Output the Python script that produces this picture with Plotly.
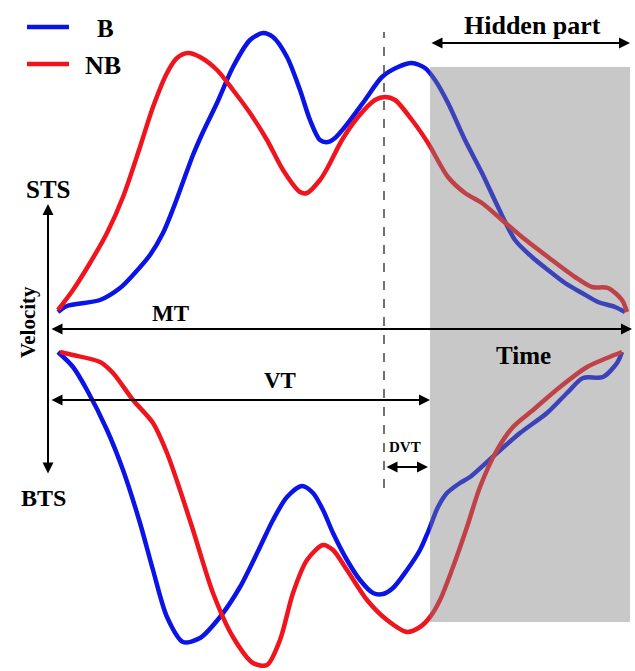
import plotly.graph_objects as go

# ---- data (time in arbitrary units, velocity in arbitrary units) ----
b_sts_t = [0, 9, 42, 62, 75, 92, 105, 115, 125, 135, 145, 159, 175, 192, 205, 215, 229, 242, 252, 262, 270, 277,
           290, 307, 324, 340, 354, 367, 377, 390, 407, 424, 440, 457, 474, 490, 507, 524, 540, 557, 567]
b_sts_v = [0, 6, 12, 24, 37, 57, 79, 103, 130, 157, 180, 209, 245, 272, 279, 275, 255, 222, 192, 172, 170, 174,
           189, 212, 235, 245, 249, 244, 232, 209, 172, 139, 105, 72, 55, 42, 29, 19, 10, 5, 0]

nb_sts_t = [0, 15, 32, 49, 65, 82, 95, 109, 119, 130, 142, 159, 175, 192, 209, 225, 242, 249, 262, 270,
            284, 300, 317, 327, 337, 354, 370, 390, 407, 424, 444, 464, 490, 517, 534, 550, 564, 569]
nb_sts_v = [2, 22, 49, 79, 115, 165, 205, 239, 254, 259, 255, 242, 222, 199, 172, 142, 120, 119, 132, 145,
            172, 195, 212, 215, 212, 192, 169, 135, 119, 109, 92, 75, 55, 35, 25, 24, 12, 0]

b_bts_t = [0, 15, 29, 49, 65, 82, 95, 109, 125, 142, 162, 182, 202, 215, 229, 244, 255, 265, 275, 289,
           302, 315, 325, 335, 349, 362, 370, 380, 389, 402, 412, 439, 462, 489, 509, 525, 545, 559, 564]
b_bts_v = [0, -15, -38, -78, -118, -171, -218, -265, -290, -286, -265, -235, -195, -168, -145, -134, -141, -158, -181, -208,
           -228, -241, -242, -236, -218, -198, -180, -155, -141, -131, -125, -101, -81, -61, -41, -26, -25, -11, 0]

nb_bts_t = [2, 15, 42, 55, 75, 95, 109, 122, 135, 155, 175, 195, 209, 222, 235, 249, 265, 275, 289, 309,
            329, 349, 362, 372, 382, 395, 409, 422, 439, 455, 475, 502, 529, 549, 564]
nb_bts_v = [0, -3, -10, -21, -48, -71, -101, -138, -178, -241, -285, -311, -313, -288, -241, -208, -193, -198, -218, -248,
            -268, -280, -275, -265, -248, -215, -175, -135, -98, -75, -58, -35, -15, -6, 0]

MT_END = 572      # end of movement
VT_END = 372      # visible time end (start of hidden part)
DVT_START = 326   # dashed marker

BLUE = "#0a14e6"
RED = "#f0141e"
FONT = "Liberation Serif"
LINE = dict(width=4.5, shape="spline", smoothing=0.8)

fig = go.Figure()
fig.add_trace(go.Scatter(x=b_sts_t, y=b_sts_v, mode="lines", name="B", line=dict(color=BLUE, **LINE)))
fig.add_trace(go.Scatter(x=nb_sts_t, y=nb_sts_v, mode="lines", name="NB", line=dict(color=RED, **LINE)))
fig.add_trace(go.Scatter(x=b_bts_t, y=b_bts_v, mode="lines", name="B", yaxis="y2", line=dict(color=BLUE, **LINE)))
fig.add_trace(go.Scatter(x=nb_bts_t, y=nb_bts_v, mode="lines", name="NB", yaxis="y2", line=dict(color=RED, **LINE)))

shapes = [
    dict(type="rect", xref="x", yref="y", x0=VT_END, x1=MT_END, y0=-310, y1=245,
         fillcolor="rgba(128,128,128,0.43)", line=dict(width=0), layer="above"),
    dict(type="line", xref="x", yref="y", x0=DVT_START, x1=DVT_START, y0=-176, y1=280,
         line=dict(color="#444444", width=1.5, dash="dash")),
    dict(type="line", xref="x", yref="y", x0=-31, x1=11, y0=285, y1=285, line=dict(color=BLUE, width=4.5)),
    dict(type="line", xref="x", yref="y", x0=-31, x1=11, y0=248, y1=248, line=dict(color=RED, width=4.5)),
]

def arrow(x0, y0, x1, y1):
    return dict(x=x1, y=y1, ax=x0, ay=y0, xref="x", yref="y", axref="x", ayref="y", text="",
                showarrow=True, arrowhead=2, arrowside="end+start", arrowsize=1.1, arrowwidth=2,
                arrowcolor="black")

def label(x, y, text, size, angle=0):
    return dict(x=x, y=y, xref="x", yref="y", text="<b>" + text + "</b>", showarrow=False,
                textangle=angle, font=dict(family=FONT, size=size, color="black"))

annotations = [
    arrow(-10, -163, -10, 108),            # velocity axis
    arrow(-8, -17, 574, -17),              # MT
    arrow(-8, -88, VT_END, -88),           # VT
    arrow(DVT_START + 1, -155, VT_END - 2, -155),  # DVT
    arrow(VT_END, 269, 572, 269),          # hidden part
    label(474, 287, "Hidden part", 26),
    label(-10, 123, "STS", 25),
    label(-15, -186, "BTS", 24),
    label(-30, -10, "Velocity", 21, -90),
    label(112, -1, "MT", 23),
    label(465, -43, "Time", 25),
    label(222, -68, "VT", 23),
    label(347, -135, "DVT", 15),
    label(47, 284, "B", 25),
    label(45, 247, "NB", 26),
]

fig.update_layout(
    width=635, height=671,
    margin=dict(l=0, r=0, t=0, b=0),
    paper_bgcolor="white", plot_bgcolor="white",
    showlegend=False,
    xaxis=dict(range=[-58, 577], visible=False, fixedrange=True),
    yaxis=dict(range=[-359, 312], visible=False, domain=[0, 1]),
    yaxis2=dict(range=[-319, 352], visible=False, overlaying="y"),
    shapes=shapes,
    annotations=annotations,
)

fig.write_html("out.html")
